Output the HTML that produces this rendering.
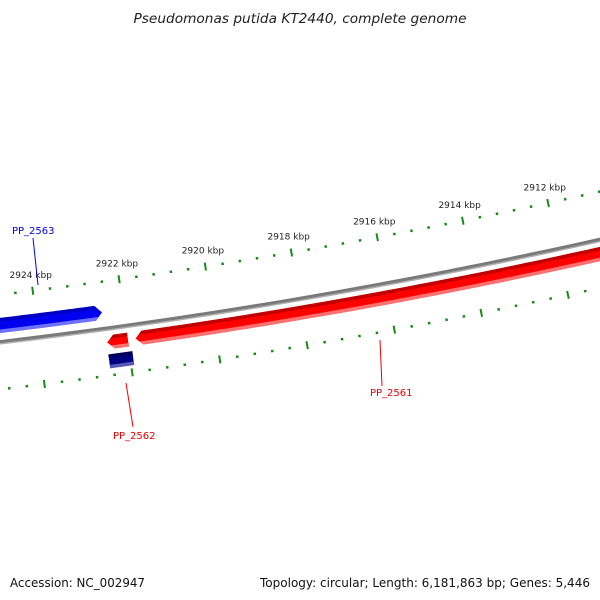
<!DOCTYPE html>
<html><head><meta charset="utf-8"><style>
html,body{margin:0;padding:0;background:#fff;}
svg{display:block;font-family:"DejaVu Sans","Liberation Sans",sans-serif;}
</style></head><body>
<svg id="map" width="600" height="600" viewBox="0 0 600 600" xmlns="http://www.w3.org/2000/svg">
<rect width="600" height="600" fill="#fff"/>
<defs id="defs"></defs>
<text x="300" y="23" text-anchor="middle" font-size="13" font-style="italic" fill="#222" textLength="333" lengthAdjust="spacingAndGlyphs">Pseudomonas putida KT2440, complete genome</text>
<g id="rings"></g>
<g id="genes"></g>
<g id="labels"></g>
<text x="10" y="587" font-size="12" fill="#111" textLength="135" lengthAdjust="spacingAndGlyphs">Accession: NC_002947</text>
<text x="590" y="587" text-anchor="end" font-size="12" fill="#111" textLength="330" lengthAdjust="spacingAndGlyphs">Topology: circular; Length: 6,181,863 bp; Genes: 5,446</text>
</svg>
<script>
// data
const majorTicksKbp = [2926, 2924, 2922, 2920, 2918, 2916, 2914, 2912, 2910];
const tickLabels = ["2926 kbp","2924 kbp","2922 kbp","2920 kbp","2918 kbp","2916 kbp","2914 kbp","2912 kbp","2910 kbp"];
const geneNames = ["PP_2563", "PP_2561", "PP_2562", "PP_2562b"];
const geneStartKbp = [2927.5, 2907.5, 2921.99, 2921.93];
const geneEndKbp = [2922.49, 2921.82, 2922.47, 2922.48];
const geneStrand = [1, -1, -1, 0];

const NS = "http://www.w3.org/2000/svg";
const CX = -708, CY = -5616, R = 6000;
const th0 = Math.atan2(293 - CY, 33 - CX);
const rTick = Math.hypot(293 - CY, 33 - CX);
const k = 43.6 / (1000 * rTick);
function ang(kbp) { return th0 + (kbp - 2924) * 1000 * k; }
function pt(kbp, off) { const a = ang(kbp), r = R + off; return [CX + r * Math.cos(a), CY + r * Math.sin(a)]; }
function mk(tag, attrs, parent) { const e = document.createElementNS(NS, tag); for (const a in attrs) e.setAttribute(a, attrs[a]); parent.appendChild(e); return e; }
const rings = document.getElementById('rings'), genes = document.getElementById('genes'), labels = document.getElementById('labels'), defs = document.getElementById('defs');

function arcPath(k1, k2, off) {
  let d = ""; const n = 60;
  for (let i = 0; i <= n; i++) { const p = pt(k1 + (k2 - k1) * i / n, off); d += (i ? "L" : "M") + p[0].toFixed(2) + "," + p[1].toFixed(2); }
  return d;
}
let bb = mk('path', {d: arcPath(2930, 2905, 0), stroke: '#7a7a7a', 'stroke-width': 4, fill: 'none'}, rings);


let bb2 = mk('path', {d: arcPath(2930, 2905, 1.8), stroke: '#b0b0b0', 'stroke-width': 1.5, fill: 'none'}, rings);



[-47, 47].forEach((off) => {
  for (let m = 0; m < majorTicksKbp.length - 1; m++) {
    const base = majorTicksKbp[m];
    for (let j = 0; j < 5; j++) {
      const kb = base - j * 0.4;
      const major = j === 0;
      const len = major ? 8 : 2.5;
      const a = pt(kb, off - len / 2), b = pt(kb, off + len / 2);
      const t = mk('line', {x1: a[0], y1: a[1], x2: b[0], y2: b[1], stroke: '#188a18', 'stroke-width': major ? 2 : 2.5}, rings);
      
      
    }
    if (off < 0) {
      const p = pt(base, off - 16);
      const tx = mk('text', {x: p[0], y: p[1] + 3, 'text-anchor': 'middle', 'font-size': 9, fill: '#222'}, labels);
      tx.textContent = tickLabels[m];
      
      
    }
  }
});

function band(k1, k2, o1, o2, strand, head) {
  let pts = [];
  const n = 40;
  let ks = k2;
  if (strand !== 0) ks = k2 - head / 43.8 * (k2 > k1 ? 1 : -1);
  for (let i = 0; i <= n; i++) pts.push(pt(k1 + (ks - k1) * i / n, o1));
  if (strand !== 0) pts.push(pt(k2, (o1 + o2) / 2));
  for (let i = n; i >= 0; i--) pts.push(pt(k1 + (ks - k1) * i / n, o2));
  return "M" + pts.map(p => p[0].toFixed(2) + "," + p[1].toFixed(2)).join("L") + "Z";
}
const colors = [["#0000f0", "#0000c0", "#7070ff"], ["#ff0000", "#c00000", "#ff7070"], ["#ff0000", "#c00000", "#ff7070"], ["#000080", "#000058", "#5858b8"]];
const offs = [[-24, -9], [7, 21], [7, 21], [26, 40]];
for (let g = 0; g < geneNames.length; g++) {
  const c = colors[g], o = offs[g];
  const shape = band(geneStartKbp[g], geneEndKbp[g], o[0], o[1], geneStrand[g], 7);
  const cp = mk('clipPath', {id: 'clip' + g}, defs);
  mk('path', {d: shape}, cp);
  const grp = mk('g', {'clip-path': 'url(#clip' + g + ')'}, genes);
  
  
  mk('path', {d: shape, fill: c[0]}, grp);
  mk('path', {d: band(geneStartKbp[g] + (geneStartKbp[g] > geneEndKbp[g] ? 1 : -1), geneEndKbp[g] + (geneStartKbp[g] > geneEndKbp[g] ? -1 : 1), o[0] - 3, o[0] + 3.5, 0, 0), fill: c[1]}, grp);
  mk('path', {d: band(geneStartKbp[g] + (geneStartKbp[g] > geneEndKbp[g] ? 1 : -1), geneEndKbp[g] + (geneStartKbp[g] > geneEndKbp[g] ? -1 : 1), o[1] - 3.5, o[1] + 3, 0, 0), fill: c[2]}, grp);
}

const labelSpecs = [["PP_2563", "#0000ee", 12, 234, 33, 238, 38, 285], ["PP_2562", "#ee0000", 113, 439, 126, 383, 133, 427], ["PP_2561", "#ee0000", 370, 396, 380, 340, 382, 386]];
labelSpecs.forEach(s => {
  const l = mk('line', {x1: s[4], y1: s[5], x2: s[6], y2: s[7], stroke: s[1], 'stroke-width': 1}, labels);
  
  
  const t = mk('text', {x: s[2], y: s[3], 'font-size': 10, fill: s[1]}, labels);
  t.textContent = s[0];
  
  
});
</script>
</body></html>
